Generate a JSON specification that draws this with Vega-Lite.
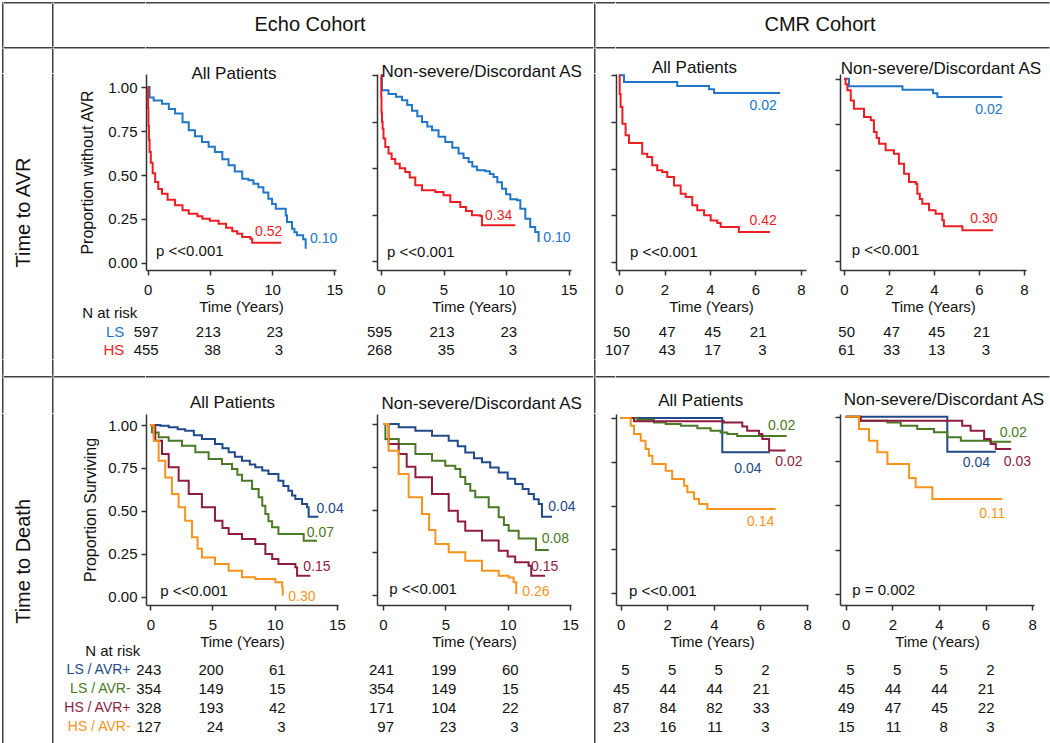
{
"$schema":"https://vega.github.io/schema/vega-lite/v6.json",
"padding":{"left":2,"top":2,"right":0,"bottom":0},
"config":{"view":{"stroke":null},"font":"Liberation Sans",
"axis":{"labelFontSize":15,"titleFontSize":15,"titleFontWeight":"normal","labelColor":"#111","titleColor":"#111","domainColor":"#333","tickColor":"#333","domainWidth":1.5,"tickWidth":1.5,"tickSize":5,"grid":false,"labelFlush":false,"labelOverlap":false},
"title":{"fontSize":17,"fontWeight":"normal","color":"#111","anchor":"middle"},
"text":{"fontSize":15,"color":"#111"}},
"datasets":{
"e":[],
"one":[{"k":1}],
"km":[
{"p":1,"s":"LS","t":0,"v":1},{"p":1,"s":"LS","t":0.15,"v":0.94},{"p":1,"s":"LS","t":0.48,"v":0.924},{"p":1,"s":"LS","t":1.15,"v":0.905},{"p":1,"s":"LS","t":1.7,"v":0.875},{"p":1,"s":"LS","t":2.2,"v":0.85},{"p":1,"s":"LS","t":2.8,"v":0.8},{"p":1,"s":"LS","t":3.3,"v":0.754},{"p":1,"s":"LS","t":3.8,"v":0.72},{"p":1,"s":"LS","t":4.36,"v":0.688},{"p":1,"s":"LS","t":4.9,"v":0.66},{"p":1,"s":"LS","t":5.4,"v":0.63},{"p":1,"s":"LS","t":6,"v":0.59},{"p":1,"s":"LS","t":6.5,"v":0.555},{"p":1,"s":"LS","t":7,"v":0.52},{"p":1,"s":"LS","t":7.6,"v":0.479},{"p":1,"s":"LS","t":8.1,"v":0.47},{"p":1,"s":"LS","t":8.5,"v":0.45},{"p":1,"s":"LS","t":8.9,"v":0.43},{"p":1,"s":"LS","t":9.3,"v":0.4},{"p":1,"s":"LS","t":9.7,"v":0.365},{"p":1,"s":"LS","t":10,"v":0.335},{"p":1,"s":"LS","t":10.3,"v":0.308},{"p":1,"s":"LS","t":11.1,"v":0.27},{"p":1,"s":"LS","t":11.2,"v":0.233},{"p":1,"s":"LS","t":11.6,"v":0.195},{"p":1,"s":"LS","t":11.8,"v":0.175},{"p":1,"s":"LS","t":12,"v":0.157},{"p":1,"s":"LS","t":12.5,"v":0.135},{"p":1,"s":"LS","t":12.7,"v":0.081},
{"p":1,"s":"HS","t":0,"v":1},{"p":1,"s":"HS","t":0.03,"v":0.88},{"p":1,"s":"HS","t":0.06,"v":0.78},{"p":1,"s":"HS","t":0.1,"v":0.7},{"p":1,"s":"HS","t":0.15,"v":0.63},{"p":1,"s":"HS","t":0.25,"v":0.57},{"p":1,"s":"HS","t":0.4,"v":0.51},{"p":1,"s":"HS","t":0.6,"v":0.46},{"p":1,"s":"HS","t":0.85,"v":0.42},{"p":1,"s":"HS","t":1.15,"v":0.394},{"p":1,"s":"HS","t":1.6,"v":0.36},{"p":1,"s":"HS","t":2.2,"v":0.328},{"p":1,"s":"HS","t":2.8,"v":0.3},{"p":1,"s":"HS","t":3.3,"v":0.28},{"p":1,"s":"HS","t":4,"v":0.265},{"p":1,"s":"HS","t":4.4,"v":0.252},{"p":1,"s":"HS","t":5,"v":0.24},{"p":1,"s":"HS","t":5.7,"v":0.223},{"p":1,"s":"HS","t":6.3,"v":0.2},{"p":1,"s":"HS","t":6.8,"v":0.18},{"p":1,"s":"HS","t":7.2,"v":0.166},{"p":1,"s":"HS","t":7.6,"v":0.148},{"p":1,"s":"HS","t":8.25,"v":0.138},{"p":1,"s":"HS","t":8.4,"v":0.115},{"p":1,"s":"HS","t":10.74,"v":0.115},
{"p":2,"s":"LS","t":0,"v":1},{"p":2,"s":"LS","t":0.08,"v":0.919},{"p":2,"s":"LS","t":0.6,"v":0.9},{"p":2,"s":"LS","t":1.2,"v":0.885},{"p":2,"s":"LS","t":1.68,"v":0.866},{"p":2,"s":"LS","t":2.1,"v":0.84},{"p":2,"s":"LS","t":2.48,"v":0.81},{"p":2,"s":"LS","t":2.9,"v":0.78},{"p":2,"s":"LS","t":3.28,"v":0.749},{"p":2,"s":"LS","t":3.7,"v":0.725},{"p":2,"s":"LS","t":4.08,"v":0.704},{"p":2,"s":"LS","t":4.6,"v":0.67},{"p":2,"s":"LS","t":5.14,"v":0.641},{"p":2,"s":"LS","t":5.7,"v":0.61},{"p":2,"s":"LS","t":6.2,"v":0.579},{"p":2,"s":"LS","t":6.6,"v":0.555},{"p":2,"s":"LS","t":7,"v":0.534},{"p":2,"s":"LS","t":7.3,"v":0.51},{"p":2,"s":"LS","t":7.67,"v":0.489},{"p":2,"s":"LS","t":8.34,"v":0.484},{"p":2,"s":"LS","t":8.7,"v":0.47},{"p":2,"s":"LS","t":9,"v":0.453},{"p":2,"s":"LS","t":9.3,"v":0.425},{"p":2,"s":"LS","t":9.67,"v":0.39},{"p":2,"s":"LS","t":10,"v":0.36},{"p":2,"s":"LS","t":10.34,"v":0.333},{"p":2,"s":"LS","t":10.87,"v":0.328},{"p":2,"s":"LS","t":11.14,"v":0.283},{"p":2,"s":"LS","t":11.54,"v":0.229},{"p":2,"s":"LS","t":11.93,"v":0.184},{"p":2,"s":"LS","t":12.33,"v":0.158},{"p":2,"s":"LS","t":12.6,"v":0.104},
{"p":2,"s":"HS","t":0,"v":1},{"p":2,"s":"HS","t":0.02,"v":0.88},{"p":2,"s":"HS","t":0.04,"v":0.8},{"p":2,"s":"HS","t":0.08,"v":0.75},{"p":2,"s":"HS","t":0.13,"v":0.713},{"p":2,"s":"HS","t":0.2,"v":0.66},{"p":2,"s":"HS","t":0.34,"v":0.615},{"p":2,"s":"HS","t":0.6,"v":0.579},{"p":2,"s":"HS","t":0.85,"v":0.55},{"p":2,"s":"HS","t":1.14,"v":0.525},{"p":2,"s":"HS","t":1.5,"v":0.5},{"p":2,"s":"HS","t":1.94,"v":0.48},{"p":2,"s":"HS","t":2.3,"v":0.45},{"p":2,"s":"HS","t":2.74,"v":0.409},{"p":2,"s":"HS","t":3.28,"v":0.382},{"p":2,"s":"HS","t":4.34,"v":0.373},{"p":2,"s":"HS","t":5,"v":0.355},{"p":2,"s":"HS","t":5.54,"v":0.319},{"p":2,"s":"HS","t":6.34,"v":0.292},{"p":2,"s":"HS","t":6.8,"v":0.27},{"p":2,"s":"HS","t":7.27,"v":0.247},{"p":2,"s":"HS","t":7.94,"v":0.244},{"p":2,"s":"HS","t":8.07,"v":0.194},{"p":2,"s":"HS","t":10.74,"v":0.194},
{"p":3,"s":"LS","t":0,"v":1},{"p":3,"s":"LS","t":0.22,"v":0.964},{"p":3,"s":"LS","t":2.56,"v":0.943},{"p":3,"s":"LS","t":3.96,"v":0.925},{"p":3,"s":"LS","t":4.18,"v":0.905},{"p":3,"s":"LS","t":7.08,"v":0.905},
{"p":3,"s":"HS","t":0,"v":1},{"p":3,"s":"HS","t":0.03,"v":0.9},{"p":3,"s":"HS","t":0.07,"v":0.83},{"p":3,"s":"HS","t":0.15,"v":0.74},{"p":3,"s":"HS","t":0.29,"v":0.679},{"p":3,"s":"HS","t":0.44,"v":0.637},{"p":3,"s":"HS","t":1.02,"v":0.58},{"p":3,"s":"HS","t":1.24,"v":0.562},{"p":3,"s":"HS","t":1.46,"v":0.518},{"p":3,"s":"HS","t":1.68,"v":0.491},{"p":3,"s":"HS","t":1.9,"v":0.482},{"p":3,"s":"HS","t":2.12,"v":0.455},{"p":3,"s":"HS","t":2.42,"v":0.41},{"p":3,"s":"HS","t":2.71,"v":0.366},{"p":3,"s":"HS","t":2.93,"v":0.348},{"p":3,"s":"HS","t":3.22,"v":0.304},{"p":3,"s":"HS","t":3.44,"v":0.277},{"p":3,"s":"HS","t":3.74,"v":0.25},{"p":3,"s":"HS","t":4.03,"v":0.223},{"p":3,"s":"HS","t":4.32,"v":0.209},{"p":3,"s":"HS","t":4.47,"v":0.187},{"p":3,"s":"HS","t":5.27,"v":0.161},{"p":3,"s":"HS","t":6.64,"v":0.161},
{"p":4,"s":"LS","t":0,"v":1},{"p":4,"s":"LS","t":0.22,"v":0.958},{"p":4,"s":"LS","t":2.6,"v":0.94},{"p":4,"s":"LS","t":3.96,"v":0.92},{"p":4,"s":"LS","t":4.15,"v":0.9},{"p":4,"s":"LS","t":7.04,"v":0.9},
{"p":4,"s":"HS","t":0,"v":1},{"p":4,"s":"HS","t":0.07,"v":0.97},{"p":4,"s":"HS","t":0.15,"v":0.936},{"p":4,"s":"HS","t":0.3,"v":0.88},{"p":4,"s":"HS","t":0.44,"v":0.835},{"p":4,"s":"HS","t":0.89,"v":0.79},{"p":4,"s":"HS","t":1.19,"v":0.772},{"p":4,"s":"HS","t":1.33,"v":0.708},{"p":4,"s":"HS","t":1.45,"v":0.675},{"p":4,"s":"HS","t":1.56,"v":0.643},{"p":4,"s":"HS","t":1.85,"v":0.607},{"p":4,"s":"HS","t":2.22,"v":0.589},{"p":4,"s":"HS","t":2.44,"v":0.534},{"p":4,"s":"HS","t":2.67,"v":0.479},{"p":4,"s":"HS","t":2.89,"v":0.433},{"p":4,"s":"HS","t":3.19,"v":0.424},{"p":4,"s":"HS","t":3.26,"v":0.369},{"p":4,"s":"HS","t":3.37,"v":0.34},{"p":4,"s":"HS","t":3.48,"v":0.314},{"p":4,"s":"HS","t":3.78,"v":0.278},{"p":4,"s":"HS","t":4.07,"v":0.259},{"p":4,"s":"HS","t":4.37,"v":0.223},{"p":4,"s":"HS","t":4.44,"v":0.19},{"p":4,"s":"HS","t":5.26,"v":0.168},{"p":4,"s":"HS","t":6.62,"v":0.168},
{"p":5,"s":"LSp","t":0,"v":1},{"p":5,"s":"LSp","t":0.8,"v":0.995},{"p":5,"s":"LSp","t":1.48,"v":0.987},{"p":5,"s":"LSp","t":2.2,"v":0.975},{"p":5,"s":"LSp","t":2.8,"v":0.967},{"p":5,"s":"LSp","t":3.5,"v":0.94},{"p":5,"s":"LSp","t":4.15,"v":0.918},{"p":5,"s":"LSp","t":5.2,"v":0.889},{"p":5,"s":"LSp","t":5.8,"v":0.865},{"p":5,"s":"LSp","t":6.3,"v":0.841},{"p":5,"s":"LSp","t":6.8,"v":0.815},{"p":5,"s":"LSp","t":7.37,"v":0.792},{"p":5,"s":"LSp","t":8,"v":0.77},{"p":5,"s":"LSp","t":8.44,"v":0.754},{"p":5,"s":"LSp","t":9,"v":0.735},{"p":5,"s":"LSp","t":9.5,"v":0.715},{"p":5,"s":"LSp","t":10.3,"v":0.676},{"p":5,"s":"LSp","t":10.7,"v":0.645},{"p":5,"s":"LSp","t":11.1,"v":0.617},{"p":5,"s":"LSp","t":11.4,"v":0.59},{"p":5,"s":"LSp","t":11.66,"v":0.569},{"p":5,"s":"LSp","t":12.2,"v":0.54},{"p":5,"s":"LSp","t":12.6,"v":0.521},{"p":5,"s":"LSp","t":12.73,"v":0.466},{"p":5,"s":"LSp","t":13.5,"v":0.466},
{"p":5,"s":"LSm","t":0,"v":1},{"p":5,"s":"LSm","t":0.14,"v":0.957},{"p":5,"s":"LSm","t":0.67,"v":0.928},{"p":5,"s":"LSm","t":1.48,"v":0.909},{"p":5,"s":"LSm","t":2.55,"v":0.879},{"p":5,"s":"LSm","t":3.62,"v":0.841},{"p":5,"s":"LSm","t":4.69,"v":0.802},{"p":5,"s":"LSm","t":5.76,"v":0.773},{"p":5,"s":"LSm","t":6.57,"v":0.744},{"p":5,"s":"LSm","t":7,"v":0.71},{"p":5,"s":"LSm","t":7.37,"v":0.676},{"p":5,"s":"LSm","t":8.18,"v":0.627},{"p":5,"s":"LSm","t":8.71,"v":0.579},{"p":5,"s":"LSm","t":9,"v":0.53},{"p":5,"s":"LSm","t":9.25,"v":0.482},{"p":5,"s":"LSm","t":9.5,"v":0.44},{"p":5,"s":"LSm","t":9.79,"v":0.404},{"p":5,"s":"LSm","t":10.3,"v":0.365},{"p":5,"s":"LSm","t":12.33,"v":0.326},{"p":5,"s":"LSm","t":13.4,"v":0.326},
{"p":5,"s":"HSp","t":0,"v":1},{"p":5,"s":"HSp","t":0.4,"v":0.909},{"p":5,"s":"HSp","t":0.94,"v":0.831},{"p":5,"s":"HSp","t":1.48,"v":0.754},{"p":5,"s":"HSp","t":2.28,"v":0.676},{"p":5,"s":"HSp","t":3.09,"v":0.598},{"p":5,"s":"HSp","t":4.15,"v":0.521},{"p":5,"s":"HSp","t":5.2,"v":0.443},{"p":5,"s":"HSp","t":5.8,"v":0.4},{"p":5,"s":"HSp","t":6.3,"v":0.365},{"p":5,"s":"HSp","t":7.37,"v":0.336},{"p":5,"s":"HSp","t":8.44,"v":0.307},{"p":5,"s":"HSp","t":9.25,"v":0.249},{"p":5,"s":"HSp","t":9.8,"v":0.22},{"p":5,"s":"HSp","t":10.3,"v":0.19},{"p":5,"s":"HSp","t":11.66,"v":0.171},{"p":5,"s":"HSp","t":11.8,"v":0.122},{"p":5,"s":"HSp","t":12.86,"v":0.122},
{"p":5,"s":"HSm","t":0,"v":1},{"p":5,"s":"HSm","t":0.27,"v":0.909},{"p":5,"s":"HSm","t":0.67,"v":0.792},{"p":5,"s":"HSm","t":1.2,"v":0.695},{"p":5,"s":"HSm","t":1.74,"v":0.598},{"p":5,"s":"HSm","t":2.28,"v":0.521},{"p":5,"s":"HSm","t":2.8,"v":0.443},{"p":5,"s":"HSm","t":3.35,"v":0.346},{"p":5,"s":"HSm","t":3.8,"v":0.28},{"p":5,"s":"HSm","t":4.15,"v":0.229},{"p":5,"s":"HSm","t":5.2,"v":0.19},{"p":5,"s":"HSm","t":6.3,"v":0.151},{"p":5,"s":"HSm","t":7.37,"v":0.113},{"p":5,"s":"HSm","t":8.44,"v":0.103},{"p":5,"s":"HSm","t":10.05,"v":0.084},{"p":5,"s":"HSm","t":10.6,"v":0.055},{"p":5,"s":"HSm","t":10.65,"v":0.006},
{"p":6,"s":"LSp","t":0,"v":1},{"p":6,"s":"LSp","t":1.26,"v":0.981},{"p":6,"s":"LSp","t":2.6,"v":0.961},{"p":6,"s":"LSp","t":3.93,"v":0.932},{"p":6,"s":"LSp","t":5.27,"v":0.902},{"p":6,"s":"LSp","t":6,"v":0.87},{"p":6,"s":"LSp","t":6.6,"v":0.834},{"p":6,"s":"LSp","t":7.3,"v":0.8},{"p":6,"s":"LSp","t":7.94,"v":0.776},{"p":6,"s":"LSp","t":8.6,"v":0.745},{"p":6,"s":"LSp","t":9.28,"v":0.717},{"p":6,"s":"LSp","t":10,"v":0.68},{"p":6,"s":"LSp","t":10.6,"v":0.649},{"p":6,"s":"LSp","t":11.2,"v":0.62},{"p":6,"s":"LSp","t":11.68,"v":0.591},{"p":6,"s":"LSp","t":12.1,"v":0.56},{"p":6,"s":"LSp","t":12.49,"v":0.532},{"p":6,"s":"LSp","t":12.75,"v":0.458},{"p":6,"s":"LSp","t":13.55,"v":0.458},
{"p":6,"s":"LSm","t":0,"v":1},{"p":6,"s":"LSm","t":0.19,"v":0.912},{"p":6,"s":"LSm","t":1.26,"v":0.883},{"p":6,"s":"LSm","t":2.6,"v":0.825},{"p":6,"s":"LSm","t":3.93,"v":0.785},{"p":6,"s":"LSm","t":5,"v":0.756},{"p":6,"s":"LSm","t":5.8,"v":0.737},{"p":6,"s":"LSm","t":6.2,"v":0.69},{"p":6,"s":"LSm","t":6.6,"v":0.649},{"p":6,"s":"LSm","t":7,"v":0.61},{"p":6,"s":"LSm","t":7.4,"v":0.571},{"p":6,"s":"LSm","t":8.48,"v":0.513},{"p":6,"s":"LSm","t":9.28,"v":0.454},{"p":6,"s":"LSm","t":9.7,"v":0.41},{"p":6,"s":"LSm","t":10.08,"v":0.376},{"p":6,"s":"LSm","t":10.88,"v":0.33},{"p":6,"s":"LSm","t":12.27,"v":0.263},{"p":6,"s":"LSm","t":13.3,"v":0.263},
{"p":6,"s":"HSp","t":0,"v":1},{"p":6,"s":"HSp","t":0.45,"v":0.883},{"p":6,"s":"HSp","t":1.26,"v":0.825},{"p":6,"s":"HSp","t":1.9,"v":0.75},{"p":6,"s":"HSp","t":2.6,"v":0.688},{"p":6,"s":"HSp","t":3.93,"v":0.591},{"p":6,"s":"HSp","t":5.27,"v":0.493},{"p":6,"s":"HSp","t":6,"v":0.43},{"p":6,"s":"HSp","t":6.6,"v":0.376},{"p":6,"s":"HSp","t":7.94,"v":0.318},{"p":6,"s":"HSp","t":9.28,"v":0.259},{"p":6,"s":"HSp","t":10,"v":0.225},{"p":6,"s":"HSp","t":10.6,"v":0.191},{"p":6,"s":"HSp","t":11.68,"v":0.171},{"p":6,"s":"HSp","t":11.89,"v":0.113},{"p":6,"s":"HSp","t":13,"v":0.113},
{"p":6,"s":"HSm","t":0,"v":1},{"p":6,"s":"HSm","t":0.45,"v":0.844},{"p":6,"s":"HSm","t":1.26,"v":0.708},{"p":6,"s":"HSm","t":2.06,"v":0.571},{"p":6,"s":"HSm","t":3.13,"v":0.474},{"p":6,"s":"HSm","t":3.7,"v":0.38},{"p":6,"s":"HSm","t":4.2,"v":0.298},{"p":6,"s":"HSm","t":5.27,"v":0.25},{"p":6,"s":"HSm","t":6.6,"v":0.2},{"p":6,"s":"HSm","t":7.94,"v":0.142},{"p":6,"s":"HSm","t":9.28,"v":0.113},{"p":6,"s":"HSm","t":10.08,"v":0.103},{"p":6,"s":"HSm","t":10.48,"v":0.074},{"p":6,"s":"HSm","t":10.69,"v":0.006},
{"p":7,"s":"LSp","t":0,"v":1},{"p":7,"s":"LSp","t":4.36,"v":0.804},{"p":7,"s":"LSp","t":6.41,"v":0.804},
{"p":7,"s":"LSm","t":0,"v":1},{"p":7,"s":"LSm","t":0.71,"v":0.99},{"p":7,"s":"LSm","t":1.43,"v":0.975},{"p":7,"s":"LSm","t":1.93,"v":0.966},{"p":7,"s":"LSm","t":2.58,"v":0.956},{"p":7,"s":"LSm","t":3.29,"v":0.941},{"p":7,"s":"LSm","t":3.86,"v":0.928},{"p":7,"s":"LSm","t":4.29,"v":0.918},{"p":7,"s":"LSm","t":4.58,"v":0.909},{"p":7,"s":"LSm","t":5,"v":0.897},{"p":7,"s":"LSm","t":7.12,"v":0.897},
{"p":7,"s":"HSp","t":0,"v":1},{"p":7,"s":"HSp","t":0.57,"v":0.981},{"p":7,"s":"HSp","t":4.43,"v":0.975},{"p":7,"s":"HSp","t":5.22,"v":0.952},{"p":7,"s":"HSp","t":5.43,"v":0.928},{"p":7,"s":"HSp","t":5.94,"v":0.909},{"p":7,"s":"HSp","t":6.08,"v":0.88},{"p":7,"s":"HSp","t":6.37,"v":0.814},{"p":7,"s":"HSp","t":7.08,"v":0.814},
{"p":7,"s":"HSm","t":0,"v":1},{"p":7,"s":"HSm","t":0.43,"v":0.956},{"p":7,"s":"HSm","t":0.57,"v":0.909},{"p":7,"s":"HSm","t":0.86,"v":0.871},{"p":7,"s":"HSm","t":1.07,"v":0.823},{"p":7,"s":"HSm","t":1.21,"v":0.785},{"p":7,"s":"HSm","t":1.36,"v":0.737},{"p":7,"s":"HSm","t":1.93,"v":0.699},{"p":7,"s":"HSm","t":2.21,"v":0.652},{"p":7,"s":"HSm","t":2.72,"v":0.614},{"p":7,"s":"HSm","t":2.86,"v":0.576},{"p":7,"s":"HSm","t":3.15,"v":0.538},{"p":7,"s":"HSm","t":3.36,"v":0.509},{"p":7,"s":"HSm","t":3.72,"v":0.481},{"p":7,"s":"HSm","t":6.65,"v":0.481},
{"p":8,"s":"LSp","t":0,"v":1},{"p":8,"s":"LSp","t":4.36,"v":0.803},{"p":8,"s":"LSp","t":6.44,"v":0.803},
{"p":8,"s":"LSm","t":0,"v":1},{"p":8,"s":"LSm","t":0.64,"v":0.977},{"p":8,"s":"LSm","t":1.79,"v":0.968},{"p":8,"s":"LSm","t":2.36,"v":0.949},{"p":8,"s":"LSm","t":3.07,"v":0.931},{"p":8,"s":"LSm","t":3.79,"v":0.912},{"p":8,"s":"LSm","t":4.36,"v":0.884},{"p":8,"s":"LSm","t":4.94,"v":0.865},{"p":8,"s":"LSm","t":6.22,"v":0.859},{"p":8,"s":"LSm","t":7.1,"v":0.859},
{"p":8,"s":"HSp","t":0,"v":1},{"p":8,"s":"HSp","t":0.64,"v":0.977},{"p":8,"s":"HSp","t":5,"v":0.949},{"p":8,"s":"HSp","t":5.36,"v":0.921},{"p":8,"s":"HSp","t":5.94,"v":0.874},{"p":8,"s":"HSp","t":6.22,"v":0.846},{"p":8,"s":"HSp","t":6.44,"v":0.818},{"p":8,"s":"HSp","t":7.1,"v":0.818},
{"p":8,"s":"HSm","t":0,"v":1},{"p":8,"s":"HSm","t":0.57,"v":0.931},{"p":8,"s":"HSm","t":1,"v":0.865},{"p":8,"s":"HSm","t":1.36,"v":0.799},{"p":8,"s":"HSm","t":1.79,"v":0.733},{"p":8,"s":"HSm","t":2.72,"v":0.655},{"p":8,"s":"HSm","t":3,"v":0.602},{"p":8,"s":"HSm","t":3.72,"v":0.536},{"p":8,"s":"HSm","t":6.72,"v":0.536}
],
"lab":[
{"p":1,"s":"HS","t":9.73,"v":0.176,"txt":"0.52"},{"p":1,"s":"LS","t":14.15,"v":0.138,"txt":"0.10"},
{"p":2,"s":"HS","t":9.41,"v":0.244,"txt":"0.34"},{"p":2,"s":"LS","t":14.07,"v":0.127,"txt":"0.10"},
{"p":3,"s":"LS","t":6.34,"v":0.834,"txt":"0.02"},{"p":3,"s":"HS","t":6.34,"v":0.22,"txt":"0.42"},
{"p":4,"s":"LS","t":6.44,"v":0.827,"txt":"0.02"},{"p":4,"s":"HS","t":6.22,"v":0.229,"txt":"0.30"},
{"p":5,"s":"LSp","t":14.45,"v":0.511,"txt":"0.04"},{"p":5,"s":"LSm","t":13.67,"v":0.369,"txt":"0.07"},{"p":5,"s":"HSp","t":13.4,"v":0.171,"txt":"0.15"},{"p":5,"s":"HSm","t":12.19,"v":0.0,"txt":"0.30"},
{"p":6,"s":"LSp","t":14.35,"v":0.516,"txt":"0.04"},{"p":6,"s":"LSm","t":13.82,"v":0.327,"txt":"0.08"},{"p":6,"s":"HSp","t":12.97,"v":0.165,"txt":"0.15"},{"p":6,"s":"HSm","t":12.27,"v":0.016,"txt":"0.26"},
{"p":7,"s":"LSm","t":6.91,"v":0.956,"txt":"0.02"},{"p":7,"s":"LSp","t":5.46,"v":0.709,"txt":"0.04"},{"p":7,"s":"HSp","t":7.22,"v":0.751,"txt":"0.02"},{"p":7,"s":"HSm","t":6.01,"v":0.405,"txt":"0.14"},
{"p":8,"s":"LSm","t":7.19,"v":0.91,"txt":"0.02"},{"p":8,"s":"LSp","t":5.61,"v":0.739,"txt":"0.04"},{"p":8,"s":"HSp","t":7.37,"v":0.743,"txt":"0.03"},{"p":8,"s":"HSm","t":6.29,"v":0.451,"txt":"0.11"}
],
"pv":[
{"p":1,"t":0.67,"v":0.068,"txt":"p <<0.001"},{"p":2,"t":0.48,"v":0.05,"txt":"p <<0.001"},{"p":3,"t":0.48,"v":0.054,"txt":"p <<0.001"},{"p":4,"t":0.34,"v":0.059,"txt":"p <<0.001"},
{"p":5,"t":0.8,"v":0.035,"txt":"p <<0.001"},{"p":6,"t":0.51,"v":0.035,"txt":"p <<0.001"},{"p":7,"t":0.36,"v":0.015,"txt":"p <<0.001"},{"p":8,"t":0.28,"v":0.023,"txt":"p = 0.002"}
],
"risk":[
{"p":1,"r":1,"t":0,"n":"597"},{"p":1,"r":1,"t":5,"n":"213"},{"p":1,"r":1,"t":10,"n":"23"},{"p":1,"r":2,"t":0,"n":"455"},{"p":1,"r":2,"t":5,"n":"38"},{"p":1,"r":2,"t":10,"n":"3"},
{"p":2,"r":1,"t":0,"n":"595"},{"p":2,"r":1,"t":5,"n":"213"},{"p":2,"r":1,"t":10,"n":"23"},{"p":2,"r":2,"t":0,"n":"268"},{"p":2,"r":2,"t":5,"n":"35"},{"p":2,"r":2,"t":10,"n":"3"},
{"p":3,"r":1,"t":0,"n":"50"},{"p":3,"r":1,"t":2,"n":"47"},{"p":3,"r":1,"t":4,"n":"45"},{"p":3,"r":1,"t":6,"n":"21"},{"p":3,"r":2,"t":0,"n":"107"},{"p":3,"r":2,"t":2,"n":"43"},{"p":3,"r":2,"t":4,"n":"17"},{"p":3,"r":2,"t":6,"n":"3"},
{"p":4,"r":1,"t":0,"n":"50"},{"p":4,"r":1,"t":2,"n":"47"},{"p":4,"r":1,"t":4,"n":"45"},{"p":4,"r":1,"t":6,"n":"21"},{"p":4,"r":2,"t":0,"n":"61"},{"p":4,"r":2,"t":2,"n":"33"},{"p":4,"r":2,"t":4,"n":"13"},{"p":4,"r":2,"t":6,"n":"3"},
{"p":5,"r":1,"t":0,"n":"243"},{"p":5,"r":1,"t":5,"n":"200"},{"p":5,"r":1,"t":10,"n":"61"},{"p":5,"r":2,"t":0,"n":"354"},{"p":5,"r":2,"t":5,"n":"149"},{"p":5,"r":2,"t":10,"n":"15"},{"p":5,"r":3,"t":0,"n":"328"},{"p":5,"r":3,"t":5,"n":"193"},{"p":5,"r":3,"t":10,"n":"42"},{"p":5,"r":4,"t":0,"n":"127"},{"p":5,"r":4,"t":5,"n":"24"},{"p":5,"r":4,"t":10,"n":"3"},
{"p":6,"r":1,"t":0,"n":"241"},{"p":6,"r":1,"t":5,"n":"199"},{"p":6,"r":1,"t":10,"n":"60"},{"p":6,"r":2,"t":0,"n":"354"},{"p":6,"r":2,"t":5,"n":"149"},{"p":6,"r":2,"t":10,"n":"15"},{"p":6,"r":3,"t":0,"n":"171"},{"p":6,"r":3,"t":5,"n":"104"},{"p":6,"r":3,"t":10,"n":"22"},{"p":6,"r":4,"t":0,"n":"97"},{"p":6,"r":4,"t":5,"n":"23"},{"p":6,"r":4,"t":10,"n":"3"},
{"p":7,"r":1,"t":0,"n":"5"},{"p":7,"r":1,"t":2,"n":"5"},{"p":7,"r":1,"t":4,"n":"5"},{"p":7,"r":1,"t":6,"n":"2"},{"p":7,"r":2,"t":0,"n":"45"},{"p":7,"r":2,"t":2,"n":"44"},{"p":7,"r":2,"t":4,"n":"44"},{"p":7,"r":2,"t":6,"n":"21"},{"p":7,"r":3,"t":0,"n":"87"},{"p":7,"r":3,"t":2,"n":"84"},{"p":7,"r":3,"t":4,"n":"82"},{"p":7,"r":3,"t":6,"n":"33"},{"p":7,"r":4,"t":0,"n":"23"},{"p":7,"r":4,"t":2,"n":"16"},{"p":7,"r":4,"t":4,"n":"11"},{"p":7,"r":4,"t":6,"n":"3"},
{"p":8,"r":1,"t":0,"n":"5"},{"p":8,"r":1,"t":2,"n":"5"},{"p":8,"r":1,"t":4,"n":"5"},{"p":8,"r":1,"t":6,"n":"2"},{"p":8,"r":2,"t":0,"n":"45"},{"p":8,"r":2,"t":2,"n":"44"},{"p":8,"r":2,"t":4,"n":"44"},{"p":8,"r":2,"t":6,"n":"21"},{"p":8,"r":3,"t":0,"n":"49"},{"p":8,"r":3,"t":2,"n":"47"},{"p":8,"r":3,"t":4,"n":"45"},{"p":8,"r":3,"t":6,"n":"22"},{"p":8,"r":4,"t":0,"n":"15"},{"p":8,"r":4,"t":2,"n":"11"},{"p":8,"r":4,"t":4,"n":"8"},{"p":8,"r":4,"t":6,"n":"3"}
]
},
"columns":15,"spacing":0,"bounds":"flush","align":"each",
"concat":[
{"data":{"name":"e"},"mark":"text","width":1.5,"height":1.5,"view":{"fill":"#404040"}},{"data":{"name":"e"},"mark":"text","width":47.75,"height":1.5,"view":{"fill":"#404040"}},{"data":{"name":"e"},"mark":"text","width":1.5,"height":1.5,"view":{"fill":"#404040"}},{"data":{"name":"e"},"mark":"text","width":91.25,"height":1.5,"view":{"fill":"#404040"}},{"data":{"name":"e"},"mark":"text","width":192,"height":1.5,"view":{"fill":"#404040"}},{"data":{"name":"e"},"mark":"text","width":39,"height":1.5,"view":{"fill":"#404040"}},{"data":{"name":"e"},"mark":"text","width":194,"height":1.5,"view":{"fill":"#404040"}},{"data":{"name":"e"},"mark":"text","width":22.25,"height":1.5,"view":{"fill":"#404040"}},{"data":{"name":"e"},"mark":"text","width":1.5,"height":1.5,"view":{"fill":"#404040"}},{"data":{"name":"e"},"mark":"text","width":19.25,"height":1.5,"view":{"fill":"#404040"}},{"data":{"name":"e"},"mark":"text","width":192,"height":1.5,"view":{"fill":"#404040"}},{"data":{"name":"e"},"mark":"text","width":32,"height":1.5,"view":{"fill":"#404040"}},{"data":{"name":"e"},"mark":"text","width":194,"height":1.5,"view":{"fill":"#404040"}},{"data":{"name":"e"},"mark":"text","width":15.5,"height":1.5,"view":{"fill":"#404040"}},{"data":{"name":"e"},"mark":"text","width":1.5,"height":1.5,"view":{"fill":"#404040"}},

{"data":{"name":"e"},"mark":"text","width":1.5,"height":42.75,"view":{"fill":"#404040"}},{"data":{"name":"e"},"mark":"text","width":1,"height":1},{"data":{"name":"e"},"mark":"text","width":1.5,"height":42.75,"view":{"fill":"#404040"}},{"data":{"name":"e"},"mark":"text","width":1,"height":1},{"data":{"name":"e"},"mark":"text","width":1,"height":1},
{"width":39,"height":42.75,"data":{"name":"one"},"mark":{"type":"text","fontSize":20,"dx":-47.5},"encoding":{"text":{"value":"Echo Cohort"}}},
{"data":{"name":"e"},"mark":"text","width":1,"height":1},{"data":{"name":"e"},"mark":"text","width":1,"height":1},{"data":{"name":"e"},"mark":"text","width":1.5,"height":42.75,"view":{"fill":"#404040"}},{"data":{"name":"e"},"mark":"text","width":1,"height":1},{"data":{"name":"e"},"mark":"text","width":1,"height":1},
{"width":32,"height":42.75,"data":{"name":"one"},"mark":{"type":"text","fontSize":20,"dx":-4},"encoding":{"text":{"value":"CMR Cohort"}}},
{"data":{"name":"e"},"mark":"text","width":1,"height":1},{"data":{"name":"e"},"mark":"text","width":1,"height":1},{"data":{"name":"e"},"mark":"text","width":1.5,"height":42.75,"view":{"fill":"#404040"}},

{"data":{"name":"e"},"mark":"text","width":1.5,"height":1.5,"view":{"fill":"#404040"}},{"data":{"name":"e"},"mark":"text","width":47.75,"height":1.5,"view":{"fill":"#404040"}},{"data":{"name":"e"},"mark":"text","width":1.5,"height":1.5,"view":{"fill":"#404040"}},{"data":{"name":"e"},"mark":"text","width":91.25,"height":1.5,"view":{"fill":"#404040"}},{"data":{"name":"e"},"mark":"text","width":192,"height":1.5,"view":{"fill":"#404040"}},{"data":{"name":"e"},"mark":"text","width":39,"height":1.5,"view":{"fill":"#404040"}},{"data":{"name":"e"},"mark":"text","width":194,"height":1.5,"view":{"fill":"#404040"}},{"data":{"name":"e"},"mark":"text","width":22.25,"height":1.5,"view":{"fill":"#404040"}},{"data":{"name":"e"},"mark":"text","width":1.5,"height":1.5,"view":{"fill":"#404040"}},{"data":{"name":"e"},"mark":"text","width":19.25,"height":1.5,"view":{"fill":"#404040"}},{"data":{"name":"e"},"mark":"text","width":192,"height":1.5,"view":{"fill":"#404040"}},{"data":{"name":"e"},"mark":"text","width":32,"height":1.5,"view":{"fill":"#404040"}},{"data":{"name":"e"},"mark":"text","width":194,"height":1.5,"view":{"fill":"#404040"}},{"data":{"name":"e"},"mark":"text","width":15.5,"height":1.5,"view":{"fill":"#404040"}},{"data":{"name":"e"},"mark":"text","width":1.5,"height":1.5,"view":{"fill":"#404040"}},

{"data":{"name":"e"},"mark":"text","width":1.5,"height":24.25,"view":{"fill":"#404040"}},{"data":{"name":"e"},"mark":"text","width":1,"height":1},{"data":{"name":"e"},"mark":"text","width":1.5,"height":24.25,"view":{"fill":"#404040"}},{"data":{"name":"e"},"mark":"text","width":1,"height":1},{"data":{"name":"e"},"mark":"text","width":1,"height":1},{"data":{"name":"e"},"mark":"text","width":1,"height":1},{"data":{"name":"e"},"mark":"text","width":1,"height":1},{"data":{"name":"e"},"mark":"text","width":1,"height":1},{"data":{"name":"e"},"mark":"text","width":1.5,"height":24.25,"view":{"fill":"#404040"}},{"data":{"name":"e"},"mark":"text","width":1,"height":1},{"data":{"name":"e"},"mark":"text","width":1,"height":1},{"data":{"name":"e"},"mark":"text","width":1,"height":1},{"data":{"name":"e"},"mark":"text","width":1,"height":1},{"data":{"name":"e"},"mark":"text","width":1,"height":1},{"data":{"name":"e"},"mark":"text","width":1.5,"height":24.25,"view":{"fill":"#404040"}},

{"data":{"name":"e"},"mark":"text","width":1.5,"height":196,"view":{"fill":"#404040"}},
{"width":47.75,"height":196,"data":{"name":"one"},"mark":{"type":"text","fontSize":20,"angle":270,"dx":-40.5,"dy":-3.5},"encoding":{"text":{"value":"Time to AVR"}}},
{"data":{"name":"e"},"mark":"text","width":1.5,"height":196,"view":{"fill":"#404040"}},
{"data":{"name":"e"},"mark":"text","width":1,"height":1},
{"width":190,"height":196,"title":{"text":"All Patients","dx":-7,"offset":-9.4},
"encoding":{"x":{"field":"t","type":"quantitative","scale":{"domain":[-0.137,15.14],"nice":false,"zero":false},"axis":{"values":[0,5,10,15],"title":"Time (Years)","labelPadding":7.5,"titlePadding":2}},"y":{"field":"v","type":"quantitative","scale":{"domain":[-0.0398,1.0739],"nice":false,"zero":false},"axis":{"values":[0,0.25,0.5,0.75,1],"format":".2f","title":"Proportion without AVR","titleFontSize":16,"titlePadding":12,"labelPadding":4}}},
"layer":[
{"data":{"name":"km"},"transform":[{"filter":"datum.p==1"}],"mark":{"type":"line","interpolate":"step-after","strokeWidth":2},"encoding":{"color":{"field":"s","type":"nominal","scale":{"domain":["LS","HS","LSp","LSm","HSp","HSm"],"range":["#2176c7","#ee1d23","#1f4a87","#4a7a26","#8e1c3e","#f7941d"]},"legend":null}}},
{"data":{"name":"lab"},"transform":[{"filter":"datum.p==1"}],"mark":{"type":"text","fontSize":14},"encoding":{"text":{"field":"txt"},"color":{"field":"s","type":"nominal","legend":null}}},
{"data":{"name":"pv"},"transform":[{"filter":"datum.p==1"}],"mark":{"type":"text","align":"left","fontSize":15},"encoding":{"text":{"field":"txt"}}}]},
{"data":{"name":"e"},"mark":"text","width":1,"height":1},
{"width":194,"height":196,"title":{"text":"Non-severe/Discordant AS","dx":7.7,"offset":-9.4},
"encoding":{"x":{"field":"t","type":"quantitative","scale":{"domain":[-0.32,15.19],"nice":false,"zero":false},"axis":{"values":[0,5,10,15],"title":"Time (Years)","labelPadding":7.5,"titlePadding":2}},"y":{"field":"v","type":"quantitative","scale":{"domain":[-0.0468,1.007],"nice":false,"zero":false},"axis":{"values":[0,0.25,0.5,0.75,1],"labels":false,"title":null}}},
"layer":[
{"data":{"name":"km"},"transform":[{"filter":"datum.p==2"}],"mark":{"type":"line","interpolate":"step-after","strokeWidth":2},"encoding":{"color":{"field":"s","type":"nominal","scale":{"domain":["LS","HS","LSp","LSm","HSp","HSm"],"range":["#2176c7","#ee1d23","#1f4a87","#4a7a26","#8e1c3e","#f7941d"]},"legend":null}}},
{"data":{"name":"lab"},"transform":[{"filter":"datum.p==2"}],"mark":{"type":"text","fontSize":14},"encoding":{"text":{"field":"txt"},"color":{"field":"s","type":"nominal","legend":null}}},
{"data":{"name":"pv"},"transform":[{"filter":"datum.p==2"}],"mark":{"type":"text","align":"left","fontSize":15},"encoding":{"text":{"field":"txt"}}}]},
{"data":{"name":"e"},"mark":"text","width":1,"height":1},
{"data":{"name":"e"},"mark":"text","width":1.5,"height":196,"view":{"fill":"#404040"}},
{"data":{"name":"e"},"mark":"text","width":1,"height":1},
{"width":190,"height":196,"title":{"text":"All Patients","dx":-16.5,"offset":-5.4},
"encoding":{"x":{"field":"t","type":"quantitative","scale":{"domain":[-0.132,8.22],"nice":false,"zero":false},"axis":{"values":[0,2,4,6,8],"title":"Time (Years)","labelPadding":7.5,"titlePadding":2}},"y":{"field":"v","type":"quantitative","scale":{"domain":[-0.0428,1.007],"nice":false,"zero":false},"axis":{"values":[0,0.25,0.5,0.75,1],"labels":false,"title":null}}},
"layer":[
{"data":{"name":"km"},"transform":[{"filter":"datum.p==3"}],"mark":{"type":"line","interpolate":"step-after","strokeWidth":2},"encoding":{"color":{"field":"s","type":"nominal","scale":{"domain":["LS","HS","LSp","LSm","HSp","HSm"],"range":["#2176c7","#ee1d23","#1f4a87","#4a7a26","#8e1c3e","#f7941d"]},"legend":null}}},
{"data":{"name":"lab"},"transform":[{"filter":"datum.p==3"}],"mark":{"type":"text","fontSize":14},"encoding":{"text":{"field":"txt"},"color":{"field":"s","type":"nominal","legend":null}}},
{"data":{"name":"pv"},"transform":[{"filter":"datum.p==3"}],"mark":{"type":"text","align":"left","fontSize":15},"encoding":{"text":{"field":"txt"}}}]},
{"data":{"name":"e"},"mark":"text","width":1,"height":1},
{"width":186,"height":196,"title":{"text":"Non-severe/Discordant AS","dx":8,"offset":-4.4},
"encoding":{"x":{"field":"t","type":"quantitative","scale":{"domain":[-0.178,8.09],"nice":false,"zero":false},"axis":{"values":[0,2,4,6,8],"title":"Time (Years)","labelPadding":7.5,"titlePadding":2}},"y":{"field":"v","type":"quantitative","scale":{"domain":[-0.0494,1.0258],"nice":false,"zero":false},"axis":{"values":[0,0.25,0.5,0.75,1],"labels":false,"title":null}}},
"layer":[
{"data":{"name":"km"},"transform":[{"filter":"datum.p==4"}],"mark":{"type":"line","interpolate":"step-after","strokeWidth":2},"encoding":{"color":{"field":"s","type":"nominal","scale":{"domain":["LS","HS","LSp","LSm","HSp","HSm"],"range":["#2176c7","#ee1d23","#1f4a87","#4a7a26","#8e1c3e","#f7941d"]},"legend":null}}},
{"data":{"name":"lab"},"transform":[{"filter":"datum.p==4"}],"mark":{"type":"text","fontSize":14},"encoding":{"text":{"field":"txt"},"color":{"field":"s","type":"nominal","legend":null}}},
{"data":{"name":"pv"},"transform":[{"filter":"datum.p==4"}],"mark":{"type":"text","align":"left","fontSize":15},"encoding":{"text":{"field":"txt"}}}]},
{"data":{"name":"e"},"mark":"text","width":1,"height":1},
{"data":{"name":"e"},"mark":"text","width":1.5,"height":196,"view":{"fill":"#404040"}},

{"data":{"name":"e"},"mark":"text","width":1.5,"height":34,"view":{"fill":"#404040"}},{"data":{"name":"e"},"mark":"text","width":1,"height":1},{"data":{"name":"e"},"mark":"text","width":1.5,"height":34,"view":{"fill":"#404040"}},{"data":{"name":"e"},"mark":"text","width":1,"height":1},{"data":{"name":"e"},"mark":"text","width":1,"height":1},{"data":{"name":"e"},"mark":"text","width":1,"height":1},{"data":{"name":"e"},"mark":"text","width":1,"height":1},{"data":{"name":"e"},"mark":"text","width":1,"height":1},{"data":{"name":"e"},"mark":"text","width":1.5,"height":34,"view":{"fill":"#404040"}},{"data":{"name":"e"},"mark":"text","width":1,"height":1},{"data":{"name":"e"},"mark":"text","width":1,"height":1},{"data":{"name":"e"},"mark":"text","width":1,"height":1},{"data":{"name":"e"},"mark":"text","width":1,"height":1},{"data":{"name":"e"},"mark":"text","width":1,"height":1},{"data":{"name":"e"},"mark":"text","width":1.5,"height":34,"view":{"fill":"#404040"}},

{"data":{"name":"e"},"mark":"text","width":1.5,"height":55.5,"view":{"fill":"#404040"}},
{"data":{"name":"e"},"mark":"text","width":1,"height":1},
{"data":{"name":"e"},"mark":"text","width":1.5,"height":55.5,"view":{"fill":"#404040"}},
{"width":91.25,"height":55.5,"encoding":{"x":{"value":"width"},"y":{"field":"r","type":"ordinal","scale":{"type":"point","padding":0.5,"domain":[0,1,2]},"axis":null}},"layer":[
{"data":{"values":[{"r":0,"txt":"N at risk"}]},"mark":{"type":"text","align":"right","dx":-8,"fontSize":15},"encoding":{"text":{"field":"txt"}}},
{"data":{"values":[{"r":1,"s":"LS","txt":"LS"},{"r":2,"s":"HS","txt":"HS"}]},"mark":{"type":"text","align":"right","dx":-21,"fontSize":15},"encoding":{"text":{"field":"txt"},"color":{"field":"s","type":"nominal","scale":{"domain":["LS","HS","LSp","LSm","HSp","HSm"],"range":["#2176c7","#ee1d23","#1f4a87","#4a7a26","#8e1c3e","#f7941d"]},"legend":null}}}]},
{"width":190,"height":55.5,"data":{"name":"risk"},"transform":[{"filter":"datum.p==1"}],"mark":{"type":"text","align":"right","dx":11,"fontSize":15},"encoding":{"x":{"field":"t","type":"quantitative","scale":{"domain":[-0.137,15.14],"nice":false,"zero":false},"axis":null},"y":{"field":"r","type":"ordinal","scale":{"type":"point","padding":0.5,"domain":[0,1,2]},"axis":null},"text":{"field":"n"}}},
{"data":{"name":"e"},"mark":"text","width":1,"height":1},
{"width":194,"height":55.5,"data":{"name":"risk"},"transform":[{"filter":"datum.p==2"}],"mark":{"type":"text","align":"right","dx":11,"fontSize":15},"encoding":{"x":{"field":"t","type":"quantitative","scale":{"domain":[-0.32,15.19],"nice":false,"zero":false},"axis":null},"y":{"field":"r","type":"ordinal","scale":{"type":"point","padding":0.5,"domain":[0,1,2]},"axis":null},"text":{"field":"n"}}},
{"data":{"name":"e"},"mark":"text","width":1,"height":1},
{"data":{"name":"e"},"mark":"text","width":1.5,"height":55.5,"view":{"fill":"#404040"}},
{"data":{"name":"e"},"mark":"text","width":1,"height":1},
{"width":190,"height":55.5,"data":{"name":"risk"},"transform":[{"filter":"datum.p==3"}],"mark":{"type":"text","align":"right","dx":11,"fontSize":15},"encoding":{"x":{"field":"t","type":"quantitative","scale":{"domain":[-0.132,8.22],"nice":false,"zero":false},"axis":null},"y":{"field":"r","type":"ordinal","scale":{"type":"point","padding":0.5,"domain":[0,1,2]},"axis":null},"text":{"field":"n"}}},
{"data":{"name":"e"},"mark":"text","width":1,"height":1},
{"width":186,"height":55.5,"data":{"name":"risk"},"transform":[{"filter":"datum.p==4"}],"mark":{"type":"text","align":"right","dx":11,"fontSize":15},"encoding":{"x":{"field":"t","type":"quantitative","scale":{"domain":[-0.178,8.09],"nice":false,"zero":false},"axis":null},"y":{"field":"r","type":"ordinal","scale":{"type":"point","padding":0.5,"domain":[0,1,2]},"axis":null},"text":{"field":"n"}}},
{"data":{"name":"e"},"mark":"text","width":1,"height":1},
{"data":{"name":"e"},"mark":"text","width":1.5,"height":55.5,"view":{"fill":"#404040"}},

{"data":{"name":"e"},"mark":"text","width":1.5,"height":15.75,"view":{"fill":"#404040"}},{"data":{"name":"e"},"mark":"text","width":1,"height":1},{"data":{"name":"e"},"mark":"text","width":1.5,"height":15.75,"view":{"fill":"#404040"}},{"data":{"name":"e"},"mark":"text","width":1,"height":1},{"data":{"name":"e"},"mark":"text","width":1,"height":1},{"data":{"name":"e"},"mark":"text","width":1,"height":1},{"data":{"name":"e"},"mark":"text","width":1,"height":1},{"data":{"name":"e"},"mark":"text","width":1,"height":1},{"data":{"name":"e"},"mark":"text","width":1.5,"height":15.75,"view":{"fill":"#404040"}},{"data":{"name":"e"},"mark":"text","width":1,"height":1},{"data":{"name":"e"},"mark":"text","width":1,"height":1},{"data":{"name":"e"},"mark":"text","width":1,"height":1},{"data":{"name":"e"},"mark":"text","width":1,"height":1},{"data":{"name":"e"},"mark":"text","width":1,"height":1},{"data":{"name":"e"},"mark":"text","width":1.5,"height":15.75,"view":{"fill":"#404040"}},

{"data":{"name":"e"},"mark":"text","width":1.5,"height":1.5,"view":{"fill":"#404040"}},{"data":{"name":"e"},"mark":"text","width":47.75,"height":1.5,"view":{"fill":"#404040"}},{"data":{"name":"e"},"mark":"text","width":1.5,"height":1.5,"view":{"fill":"#404040"}},{"data":{"name":"e"},"mark":"text","width":91.25,"height":1.5,"view":{"fill":"#404040"}},{"data":{"name":"e"},"mark":"text","width":192,"height":1.5,"view":{"fill":"#404040"}},{"data":{"name":"e"},"mark":"text","width":39,"height":1.5,"view":{"fill":"#404040"}},{"data":{"name":"e"},"mark":"text","width":194,"height":1.5,"view":{"fill":"#404040"}},{"data":{"name":"e"},"mark":"text","width":22.25,"height":1.5,"view":{"fill":"#404040"}},{"data":{"name":"e"},"mark":"text","width":1.5,"height":1.5,"view":{"fill":"#404040"}},{"data":{"name":"e"},"mark":"text","width":19.25,"height":1.5,"view":{"fill":"#404040"}},{"data":{"name":"e"},"mark":"text","width":192,"height":1.5,"view":{"fill":"#404040"}},{"data":{"name":"e"},"mark":"text","width":32,"height":1.5,"view":{"fill":"#404040"}},{"data":{"name":"e"},"mark":"text","width":194,"height":1.5,"view":{"fill":"#404040"}},{"data":{"name":"e"},"mark":"text","width":15.5,"height":1.5,"view":{"fill":"#404040"}},{"data":{"name":"e"},"mark":"text","width":1.5,"height":1.5,"view":{"fill":"#404040"}},

{"data":{"name":"e"},"mark":"text","width":1.5,"height":35.25,"view":{"fill":"#404040"}},{"data":{"name":"e"},"mark":"text","width":1,"height":1},{"data":{"name":"e"},"mark":"text","width":1.5,"height":35.25,"view":{"fill":"#404040"}},{"data":{"name":"e"},"mark":"text","width":1,"height":1},{"data":{"name":"e"},"mark":"text","width":1,"height":1},{"data":{"name":"e"},"mark":"text","width":1,"height":1},{"data":{"name":"e"},"mark":"text","width":1,"height":1},{"data":{"name":"e"},"mark":"text","width":1,"height":1},{"data":{"name":"e"},"mark":"text","width":1.5,"height":35.25,"view":{"fill":"#404040"}},{"data":{"name":"e"},"mark":"text","width":1,"height":1},{"data":{"name":"e"},"mark":"text","width":1,"height":1},{"data":{"name":"e"},"mark":"text","width":1,"height":1},{"data":{"name":"e"},"mark":"text","width":1,"height":1},{"data":{"name":"e"},"mark":"text","width":1,"height":1},{"data":{"name":"e"},"mark":"text","width":1.5,"height":35.25,"view":{"fill":"#404040"}},

{"data":{"name":"e"},"mark":"text","width":1.5,"height":191,"view":{"fill":"#404040"}},
{"width":47.75,"height":191,"data":{"name":"one"},"mark":{"type":"text","fontSize":20,"angle":270,"dx":-51.9,"dy":-3.5},"encoding":{"text":{"value":"Time to Death"}}},
{"data":{"name":"e"},"mark":"text","width":1.5,"height":191,"view":{"fill":"#404040"}},
{"data":{"name":"e"},"mark":"text","width":1,"height":1},
{"width":192,"height":191,"title":{"text":"All Patients","dx":-9.5,"offset":2},
"encoding":{"x":{"field":"t","type":"quantitative","scale":{"domain":[-0.346,15.09],"nice":false,"zero":false},"axis":{"values":[0,5,10,15],"title":"Time (Years)","labelPadding":7.5,"titlePadding":2}},"y":{"field":"v","type":"quantitative","scale":{"domain":[-0.0483,1.0641],"nice":false,"zero":false},"axis":{"values":[0,0.25,0.5,0.75,1],"format":".2f","title":"Proportion Surviving","titleFontSize":16,"titlePadding":9,"labelPadding":4}}},
"layer":[
{"data":{"name":"km"},"transform":[{"filter":"datum.p==5"}],"mark":{"type":"line","interpolate":"step-after","strokeWidth":2},"encoding":{"color":{"field":"s","type":"nominal","scale":{"domain":["LS","HS","LSp","LSm","HSp","HSm"],"range":["#2176c7","#ee1d23","#1f4a87","#4a7a26","#8e1c3e","#f7941d"]},"legend":null}}},
{"data":{"name":"lab"},"transform":[{"filter":"datum.p==5"}],"mark":{"type":"text","fontSize":14},"encoding":{"text":{"field":"txt"},"color":{"field":"s","type":"nominal","legend":null}}},
{"data":{"name":"pv"},"transform":[{"filter":"datum.p==5"}],"mark":{"type":"text","align":"left","fontSize":15},"encoding":{"text":{"field":"txt"}}}]},
{"data":{"name":"e"},"mark":"text","width":1,"height":1},
{"width":194,"height":191,"title":{"text":"Non-severe/Discordant AS","dx":7.7,"offset":1},
"encoding":{"x":{"field":"t","type":"quantitative","scale":{"domain":[-0.481,15.08],"nice":false,"zero":false},"axis":{"values":[0,5,10,15],"title":"Time (Years)","labelPadding":7.5,"titlePadding":2}},"y":{"field":"v","type":"quantitative","scale":{"domain":[-0.0585,1.0585],"nice":false,"zero":false},"axis":{"values":[0,0.25,0.5,0.75,1],"labels":false,"title":null}}},
"layer":[
{"data":{"name":"km"},"transform":[{"filter":"datum.p==6"}],"mark":{"type":"line","interpolate":"step-after","strokeWidth":2},"encoding":{"color":{"field":"s","type":"nominal","scale":{"domain":["LS","HS","LSp","LSm","HSp","HSm"],"range":["#2176c7","#ee1d23","#1f4a87","#4a7a26","#8e1c3e","#f7941d"]},"legend":null}}},
{"data":{"name":"lab"},"transform":[{"filter":"datum.p==6"}],"mark":{"type":"text","fontSize":14},"encoding":{"text":{"field":"txt"},"color":{"field":"s","type":"nominal","legend":null}}},
{"data":{"name":"pv"},"transform":[{"filter":"datum.p==6"}],"mark":{"type":"text","align":"left","fontSize":15},"encoding":{"text":{"field":"txt"}}}]},
{"data":{"name":"e"},"mark":"text","width":1,"height":1},
{"data":{"name":"e"},"mark":"text","width":1.5,"height":191,"view":{"fill":"#404040"}},
{"data":{"name":"e"},"mark":"text","width":1,"height":1},
{"width":192,"height":191,"title":{"text":"All Patients","dx":-11.3,"offset":3.6},
"encoding":{"x":{"field":"t","type":"quantitative","scale":{"domain":[-0.202,8.04],"nice":false,"zero":false},"axis":{"values":[0,2,4,6,8],"title":"Time (Years)","labelPadding":7.5,"titlePadding":2}},"y":{"field":"v","type":"quantitative","scale":{"domain":[-0.0667,1.0229],"nice":false,"zero":false},"axis":{"values":[0,0.25,0.5,0.75,1],"labels":false,"title":null}}},
"layer":[
{"data":{"name":"km"},"transform":[{"filter":"datum.p==7"}],"mark":{"type":"line","interpolate":"step-after","strokeWidth":2},"encoding":{"color":{"field":"s","type":"nominal","scale":{"domain":["LS","HS","LSp","LSm","HSp","HSm"],"range":["#2176c7","#ee1d23","#1f4a87","#4a7a26","#8e1c3e","#f7941d"]},"legend":null}}},
{"data":{"name":"lab"},"transform":[{"filter":"datum.p==7"}],"mark":{"type":"text","fontSize":14},"encoding":{"text":{"field":"txt"},"color":{"field":"s","type":"nominal","legend":null}}},
{"data":{"name":"pv"},"transform":[{"filter":"datum.p==7"}],"mark":{"type":"text","align":"left","fontSize":15},"encoding":{"text":{"field":"txt"}}}]},
{"data":{"name":"e"},"mark":"text","width":1,"height":1},
{"width":194,"height":191,"title":{"text":"Non-severe/Discordant AS","dx":7,"offset":3.6},
"encoding":{"x":{"field":"t","type":"quantitative","scale":{"domain":[-0.245,8.08],"nice":false,"zero":false},"axis":{"values":[0,2,4,6,8],"title":"Time (Years)","labelPadding":7.5,"titlePadding":2}},"y":{"field":"v","type":"quantitative","scale":{"domain":[-0.062,1.0153],"nice":false,"zero":false},"axis":{"values":[0,0.25,0.5,0.75,1],"labels":false,"title":null}}},
"layer":[
{"data":{"name":"km"},"transform":[{"filter":"datum.p==8"}],"mark":{"type":"line","interpolate":"step-after","strokeWidth":2},"encoding":{"color":{"field":"s","type":"nominal","scale":{"domain":["LS","HS","LSp","LSm","HSp","HSm"],"range":["#2176c7","#ee1d23","#1f4a87","#4a7a26","#8e1c3e","#f7941d"]},"legend":null}}},
{"data":{"name":"lab"},"transform":[{"filter":"datum.p==8"}],"mark":{"type":"text","fontSize":14},"encoding":{"text":{"field":"txt"},"color":{"field":"s","type":"nominal","legend":null}}},
{"data":{"name":"pv"},"transform":[{"filter":"datum.p==8"}],"mark":{"type":"text","align":"left","fontSize":15},"encoding":{"text":{"field":"txt"}}}]},
{"data":{"name":"e"},"mark":"text","width":1,"height":1},
{"data":{"name":"e"},"mark":"text","width":1.5,"height":191,"view":{"fill":"#404040"}},

{"data":{"name":"e"},"mark":"text","width":1.5,"height":36,"view":{"fill":"#404040"}},{"data":{"name":"e"},"mark":"text","width":1,"height":1},{"data":{"name":"e"},"mark":"text","width":1.5,"height":36,"view":{"fill":"#404040"}},{"data":{"name":"e"},"mark":"text","width":1,"height":1},{"data":{"name":"e"},"mark":"text","width":1,"height":1},{"data":{"name":"e"},"mark":"text","width":1,"height":1},{"data":{"name":"e"},"mark":"text","width":1,"height":1},{"data":{"name":"e"},"mark":"text","width":1,"height":1},{"data":{"name":"e"},"mark":"text","width":1.5,"height":36,"view":{"fill":"#404040"}},{"data":{"name":"e"},"mark":"text","width":1,"height":1},{"data":{"name":"e"},"mark":"text","width":1,"height":1},{"data":{"name":"e"},"mark":"text","width":1,"height":1},{"data":{"name":"e"},"mark":"text","width":1,"height":1},{"data":{"name":"e"},"mark":"text","width":1,"height":1},{"data":{"name":"e"},"mark":"text","width":1.5,"height":36,"view":{"fill":"#404040"}},

{"data":{"name":"e"},"mark":"text","width":1.5,"height":95,"view":{"fill":"#404040"}},
{"data":{"name":"e"},"mark":"text","width":1,"height":1},
{"data":{"name":"e"},"mark":"text","width":1.5,"height":95,"view":{"fill":"#404040"}},
{"width":91.25,"height":95,"encoding":{"x":{"value":"width"},"y":{"field":"r","type":"ordinal","scale":{"type":"point","padding":0.5,"domain":[0,1,2,3,4]},"axis":null}},"layer":[
{"data":{"values":[{"r":0,"txt":"N at risk"}]},"mark":{"type":"text","align":"right","dx":-5,"fontSize":15},"encoding":{"text":{"field":"txt"}}},
{"data":{"values":[{"r":1,"s":"LSp","txt":"LS / AVR+"},{"r":2,"s":"LSm","txt":"LS / AVR-"},{"r":3,"s":"HSp","txt":"HS / AVR+"},{"r":4,"s":"HSm","txt":"HS / AVR-"}]},"mark":{"type":"text","align":"right","dx":-14.7,"fontSize":14},"encoding":{"text":{"field":"txt"},"color":{"field":"s","type":"nominal","scale":{"domain":["LS","HS","LSp","LSm","HSp","HSm"],"range":["#2176c7","#ee1d23","#1f4a87","#4a7a26","#8e1c3e","#f7941d"]},"legend":null}}}]},
{"width":192,"height":95,"data":{"name":"risk"},"transform":[{"filter":"datum.p==5"}],"mark":{"type":"text","align":"right","dx":11,"fontSize":15},"encoding":{"x":{"field":"t","type":"quantitative","scale":{"domain":[-0.346,15.09],"nice":false,"zero":false},"axis":null},"y":{"field":"r","type":"ordinal","scale":{"type":"point","padding":0.5,"domain":[0,1,2,3,4]},"axis":null},"text":{"field":"n"}}},
{"data":{"name":"e"},"mark":"text","width":1,"height":1},
{"width":194,"height":95,"data":{"name":"risk"},"transform":[{"filter":"datum.p==6"}],"mark":{"type":"text","align":"right","dx":11,"fontSize":15},"encoding":{"x":{"field":"t","type":"quantitative","scale":{"domain":[-0.481,15.08],"nice":false,"zero":false},"axis":null},"y":{"field":"r","type":"ordinal","scale":{"type":"point","padding":0.5,"domain":[0,1,2,3,4]},"axis":null},"text":{"field":"n"}}},
{"data":{"name":"e"},"mark":"text","width":1,"height":1},
{"data":{"name":"e"},"mark":"text","width":1.5,"height":95,"view":{"fill":"#404040"}},
{"data":{"name":"e"},"mark":"text","width":1,"height":1},
{"width":192,"height":95,"data":{"name":"risk"},"transform":[{"filter":"datum.p==7"}],"mark":{"type":"text","align":"right","dx":9,"fontSize":15},"encoding":{"x":{"field":"t","type":"quantitative","scale":{"domain":[-0.202,8.04],"nice":false,"zero":false},"axis":null},"y":{"field":"r","type":"ordinal","scale":{"type":"point","padding":0.5,"domain":[0,1,2,3,4]},"axis":null},"text":{"field":"n"}}},
{"data":{"name":"e"},"mark":"text","width":1,"height":1},
{"width":194,"height":95,"data":{"name":"risk"},"transform":[{"filter":"datum.p==8"}],"mark":{"type":"text","align":"right","dx":9,"fontSize":15},"encoding":{"x":{"field":"t","type":"quantitative","scale":{"domain":[-0.245,8.08],"nice":false,"zero":false},"axis":null},"y":{"field":"r","type":"ordinal","scale":{"type":"point","padding":0.5,"domain":[0,1,2,3,4]},"axis":null},"text":{"field":"n"}}},
{"data":{"name":"e"},"mark":"text","width":1,"height":1},
{"data":{"name":"e"},"mark":"text","width":1.5,"height":95,"view":{"fill":"#404040"}},

{"data":{"name":"e"},"mark":"text","width":1.5,"height":8,"view":{"fill":"#404040"}},{"data":{"name":"e"},"mark":"text","width":1,"height":1},{"data":{"name":"e"},"mark":"text","width":1.5,"height":8,"view":{"fill":"#404040"}},{"data":{"name":"e"},"mark":"text","width":1,"height":1},{"data":{"name":"e"},"mark":"text","width":1,"height":1},{"data":{"name":"e"},"mark":"text","width":1,"height":1},{"data":{"name":"e"},"mark":"text","width":1,"height":1},{"data":{"name":"e"},"mark":"text","width":1,"height":1},{"data":{"name":"e"},"mark":"text","width":1.5,"height":8,"view":{"fill":"#404040"}},{"data":{"name":"e"},"mark":"text","width":1,"height":1},{"data":{"name":"e"},"mark":"text","width":1,"height":1},{"data":{"name":"e"},"mark":"text","width":1,"height":1},{"data":{"name":"e"},"mark":"text","width":1,"height":1},{"data":{"name":"e"},"mark":"text","width":1,"height":1},{"data":{"name":"e"},"mark":"text","width":1.5,"height":8,"view":{"fill":"#404040"}},

{"data":{"name":"e"},"mark":"text","width":1.5,"height":1.5,"view":{"fill":"#404040"}},{"data":{"name":"e"},"mark":"text","width":47.75,"height":1.5,"view":{"fill":"#404040"}},{"data":{"name":"e"},"mark":"text","width":1.5,"height":1.5,"view":{"fill":"#404040"}},{"data":{"name":"e"},"mark":"text","width":91.25,"height":1.5,"view":{"fill":"#404040"}},{"data":{"name":"e"},"mark":"text","width":192,"height":1.5,"view":{"fill":"#404040"}},{"data":{"name":"e"},"mark":"text","width":39,"height":1.5,"view":{"fill":"#404040"}},{"data":{"name":"e"},"mark":"text","width":194,"height":1.5,"view":{"fill":"#404040"}},{"data":{"name":"e"},"mark":"text","width":22.25,"height":1.5,"view":{"fill":"#404040"}},{"data":{"name":"e"},"mark":"text","width":1.5,"height":1.5,"view":{"fill":"#404040"}},{"data":{"name":"e"},"mark":"text","width":19.25,"height":1.5,"view":{"fill":"#404040"}},{"data":{"name":"e"},"mark":"text","width":192,"height":1.5,"view":{"fill":"#404040"}},{"data":{"name":"e"},"mark":"text","width":32,"height":1.5,"view":{"fill":"#404040"}},{"data":{"name":"e"},"mark":"text","width":194,"height":1.5,"view":{"fill":"#404040"}},{"data":{"name":"e"},"mark":"text","width":15.5,"height":1.5,"view":{"fill":"#404040"}},{"data":{"name":"e"},"mark":"text","width":1.5,"height":1.5,"view":{"fill":"#404040"}}
]
}
